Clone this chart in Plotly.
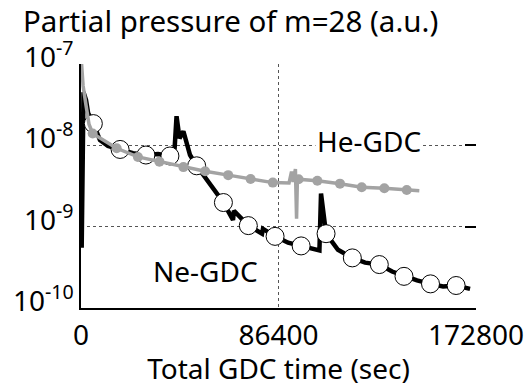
import plotly.graph_objects as go

# ---- data ----
# Ne-GDC continuous trace
ne_t = [300, 1100, 2200, 3100, 5400, 8300, 11800, 17100, 22750, 28400, 33700, 38900,
        40700, 41800, 43100, 44800, 47700, 50600, 56400, 62300, 66500, 66900, 73200,
        79200, 79600, 84900, 90600, 96300, 101100, 104300, 105000, 107200, 112400,
        118700, 124300, 130500, 136100, 141300, 147000, 152900, 158400, 164100, 170200]
ne_p = [5.5e-10, 4.5e-8, 3.6e-8, 2.5e-8, 1.85e-8, 1.16e-8, 9.8e-9, 8.9e-9, 8.0e-9, 7.6e-9,
        7.8e-9, 7.4e-9, 7.0e-9, 2.28e-8, 1.22e-8, 1.49e-8, 7.6e-9, 5.6e-9, 3.26e-9, 1.98e-9,
        1.21e-9, 1.57e-9, 1.03e-9, 8.2e-10, 9.4e-10, 7.6e-10, 6.35e-10, 5.8e-10, 5.4e-10,
        5.1e-10, 2.56e-9, 8.2e-10, 5.2e-10, 4.13e-10, 3.61e-10, 3.42e-10, 2.81e-10, 2.45e-10,
        2.18e-10, 1.98e-10, 1.84e-10, 1.89e-10, 1.72e-10]
# Ne-GDC open-circle markers
ne_mark_t = [5400, 17100, 28400, 38900, 50600, 62300, 73200, 84900, 96300, 107200,
             118700, 130500, 141300, 152900, 164100]
ne_mark_p = [1.85e-8, 8.9e-9, 7.6e-9, 7.4e-9, 5.6e-9, 1.98e-9, 1.03e-9, 7.6e-10, 5.8e-10,
             8.2e-10, 4.13e-10, 3.42e-10, 2.45e-10, 1.98e-10, 1.89e-10]

# He-GDC continuous trace
he_t = [200, 900, 2200, 3500, 5100, 15600, 24900, 34300, 44800, 54300, 64400, 74200,
        83900, 91000, 92100, 92800, 93800, 94300, 94700, 95200, 103400, 113300, 122800,
        132700, 142500, 148000]
he_p = [1.05e-7, 5.45e-8, 3.1e-8, 1.82e-8, 1.40e-8, 9.2e-9, 7.2e-9, 6.3e-9, 5.4e-9, 4.8e-9,
        4.3e-9, 3.85e-9, 3.48e-9, 3.44e-9, 4.76e-9, 3.55e-9, 5.1e-9, 1.25e-9, 4.2e-9, 3.83e-9,
        3.67e-9, 3.38e-9, 3.05e-9, 2.97e-9, 2.83e-9, 2.77e-9]
# He-GDC filled markers
he_mark_t = [5100, 15600, 24900, 34300, 44800, 54300, 64400, 74200, 83900, 95200,
             103400, 113300, 122800, 132700, 142500]
he_mark_p = [1.40e-8, 9.2e-9, 7.2e-9, 6.3e-9, 5.4e-9, 4.8e-9, 4.3e-9, 3.85e-9, 3.48e-9,
             3.83e-9, 3.67e-9, 3.38e-9, 3.05e-9, 2.97e-9, 2.83e-9]

x_ticks = [0, 86400, 172800]
x_tick_text = ["0", "86400", "172800"]
y_exps = [-10, -9, -8, -7]

FONT = "Noto Sans"
FS = 28
GRAY = "#a3a3a3"

fig = go.Figure()
fig.add_trace(go.Scatter(x=ne_t, y=ne_p, mode="lines",
                         line=dict(color="black", width=4.5), hoverinfo="skip"))
fig.add_trace(go.Scatter(x=ne_mark_t, y=ne_mark_p, mode="markers",
                         marker=dict(size=18, color="white",
                                     line=dict(color="black", width=1))))
fig.add_trace(go.Scatter(x=he_t, y=he_p, mode="lines",
                         line=dict(color=GRAY, width=3.5)))
fig.add_trace(go.Scatter(x=he_mark_t, y=he_mark_p, mode="markers",
                         marker=dict(size=10, color=GRAY)))
# carrier for right-side inward ticks
fig.add_trace(go.Scatter(x=[None], y=[None], yaxis="y2", showlegend=False))

annotations = []
for e in y_exps:
    annotations.append(dict(
        x=0, xref="paper", xanchor="right", xshift=-5,
        y=e, yref="y", yanchor="bottom", yshift=-13,
        text="10<sup>%d</sup>" % e, showarrow=False,
        font=dict(family=FONT, size=FS, color="black")))
annotations.append(dict(x=0, xref="paper", xanchor="left", xshift=-60,
                        y=1, yref="paper", yanchor="bottom", yshift=21,
                        text="Partial pressure of m=28 (a.u.)", showarrow=False,
                        font=dict(family=FONT, size=29.5, color="black")))
annotations.append(dict(x=125900, xref="x", y=-7.95, yref="y",
                        text="He-GDC", showarrow=False, bgcolor="white",
                        font=dict(family=FONT, size=28, color="black")))
annotations.append(dict(x=54250, xref="x", y=-9.54, yref="y",
                        text="Ne-GDC", showarrow=False,
                        font=dict(family=FONT, size=28, color="black")))

fig.update_layout(
    width=524, height=379,
    margin=dict(l=73, r=56, t=55.5, b=78.5),
    paper_bgcolor="white", plot_bgcolor="white",
    showlegend=False,
    font=dict(family=FONT, size=FS, color="black"),
    xaxis=dict(range=[0, 172800], tickvals=x_ticks, ticktext=x_tick_text,
               showline=True, linecolor="black", linewidth=1.5,
               showgrid=True, gridcolor="#555555", griddash="dot", gridwidth=1,
               zeroline=False, ticks="", ticklabelstandoff=2, automargin=False,
               tickfont=dict(family=FONT, size=FS),
               title=dict(text="Total GDC time (sec)", standoff=5,
                          font=dict(family=FONT, size=FS))),
    yaxis=dict(type="log", range=[-10, -7], tickvals=[10.0 ** e for e in y_exps],
               showticklabels=False, showline=True, linecolor="black", linewidth=1.5,
               showgrid=True, gridcolor="#555555", griddash="dot", gridwidth=1,
               zeroline=False, ticks="", automargin=False),
    yaxis2=dict(type="log", range=[-10, -7], overlaying="y", side="right",
                tickvals=[10.0 ** e for e in y_exps], showticklabels=False,
                ticks="inside", ticklen=11, tickcolor="black", tickwidth=1.5,
                showline=False, showgrid=False, zeroline=False, automargin=False),
    annotations=annotations,
)

fig.write_html("out.html")
